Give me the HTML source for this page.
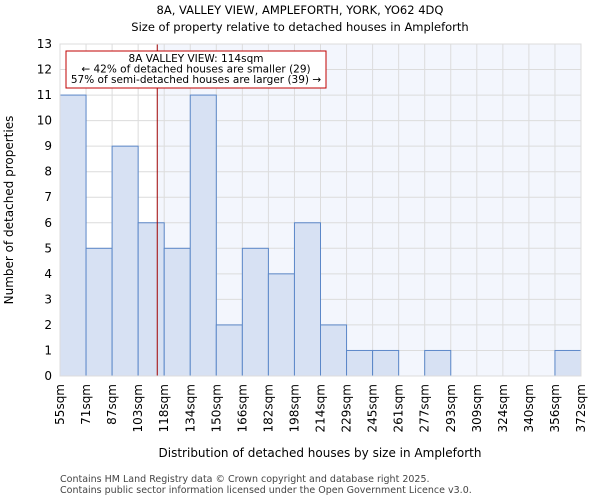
<!DOCTYPE html>
<html><head><meta charset="utf-8"><style>
body{margin:0;background:#fff;font-family:"DejaVu Sans","Liberation Sans",sans-serif}
</style></head><body>
<svg width="600" height="500" xmlns="http://www.w3.org/2000/svg" id="c" font-family="DejaVu Sans, Liberation Sans, sans-serif">
<text x="300" y="14" text-anchor="middle" font-size="11.5">8A, VALLEY VIEW, AMPLEFORTH, YORK, YO62 4DQ</text>
<text x="300" y="31" text-anchor="middle" font-size="11.5">Size of property relative to detached houses in Ampleforth</text>
<text x="320" y="457" text-anchor="middle" font-size="12">Distribution of detached houses by size in Ampleforth</text>
<text transform="translate(13,210) rotate(-90)" text-anchor="middle" font-size="12">Number of detached properties</text>
<text x="60" y="482" font-size="9.5" fill="#444">Contains HM Land Registry data © Crown copyright and database right 2025.</text>
<text x="60" y="493" font-size="9.5" fill="#444">Contains public sector information licensed under the Open Government Licence v3.0.</text>
<g id="plot"></g>
</svg>
<script>
const categories=["55sqm","71sqm","87sqm","103sqm","118sqm","134sqm","150sqm","166sqm","182sqm","198sqm","214sqm","229sqm","245sqm","261sqm","277sqm","293sqm","309sqm","324sqm","340sqm","356sqm","372sqm"];
const binEdges=[55,71,87,103,118,134,150,166,182,198,214,229,245,261,277,293,309,324,340,356,372];
const counts=[11,5,9,6,5,11,2,5,4,6,2,1,1,0,1,0,0,0,0,1];
const yTicks=[0,1,2,3,4,5,6,7,8,9,10,11,12,13];
const propertySize=114;
const X0=60,X1=581,Y0=376,YT=44,yMax=13;
const nb=counts.length,bw=(X1-X0)/nb;
function xIdx(i){return X0+i*bw;}
function xVal(v){let i=0;while(i<nb-1&&v>binEdges[i+1])i++;return xIdx(i)+(v-binEdges[i])/(binEdges[i+1]-binEdges[i])*bw;}
function y(v){return Y0-(v/yMax)*(Y0-YT);}
const NS="http://www.w3.org/2000/svg",g=document.getElementById('plot');
function mk(t,a){const e=document.createElementNS(NS,t);for(const k in a)e.setAttribute(k,a[k]);g.appendChild(e);return e;}
const lx=xVal(propertySize);
let bg=mk('rect',{x:lx,y:YT,width:X1-lx,height:Y0-YT,fill:'#f3f6fd'});


yTicks.forEach(t=>{let l=mk('line',{x1:X0,x2:X1,y1:y(t),y2:y(t),stroke:'#dcdcdc'});


let tx=mk('text',{x:X0-8,y:y(t)+4,'text-anchor':'end','font-size':12});tx.textContent=t;

});
categories.forEach((c,i)=>{const xx=xIdx(i);let l=mk('line',{x1:xx,x2:xx,y1:YT,y2:Y0,stroke:'#dcdcdc'});


let tx=mk('text',{transform:`translate(${xx+4},${Y0+8}) rotate(-90)`,'text-anchor':'end','font-size':12});tx.textContent=c;

});
counts.forEach((v,i)=>{if(v<=0)return;let r=mk('rect',{x:xIdx(i),y:y(v),width:bw,height:Y0-y(v),fill:'#d7e1f3',stroke:'#5b87c8','stroke-width':1});

});
let ln=mk('line',{x1:lx,x2:lx,y1:YT,y2:Y0,stroke:'#a00000','stroke-width':1});


let bx=mk('rect',{x:66,y:51,width:260,height:37,fill:'#fff',stroke:'#c00000'});


["8A VALLEY VIEW: 114sqm","← 42% of detached houses are smaller (29)","57% of semi-detached houses are larger (39) →"].forEach((s,i)=>{let t=mk('text',{x:196,y:62+i*10.5,'text-anchor':'middle','font-size':10.5});t.textContent=s;

});
let ax=mk('rect',{x:X0,y:YT,width:X1-X0,height:Y0-YT,fill:'none',stroke:'#dcdcdc'});


</script>
</body></html>
